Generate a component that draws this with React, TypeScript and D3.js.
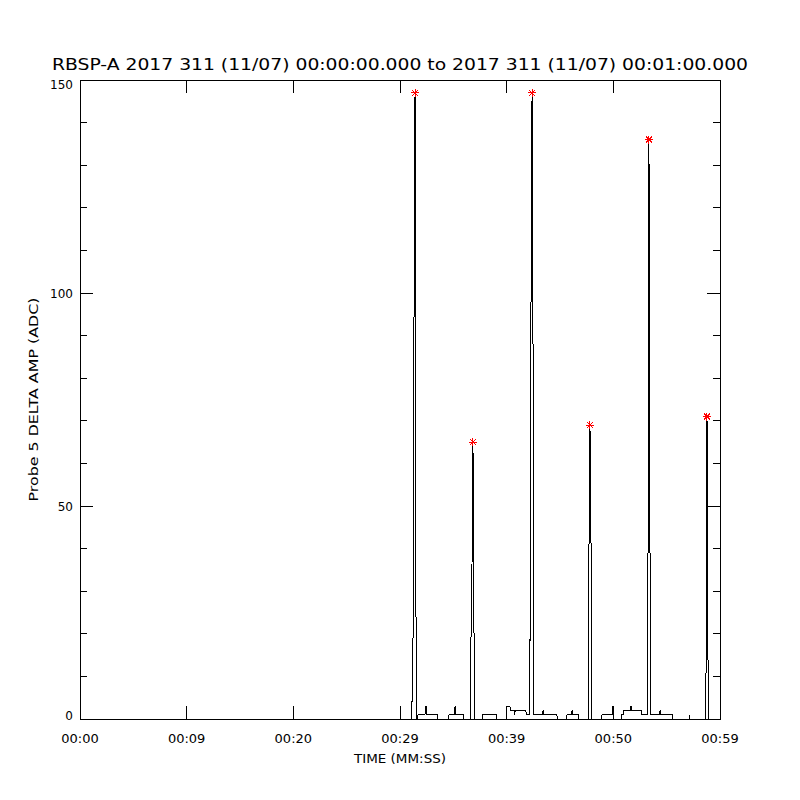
import { scaleLinear, line } from 'd3'

const width = 800
const height = 800

const margin = { top: 80, right: 80, bottom: 81, left: 80 }

const title = 'RBSP-A 2017 311 (11/07) 00:00:00.000 to 2017 311 (11/07) 00:01:00.000'
const xTitle = 'TIME (MM:SS)'
const yTitle = 'Probe 5 DELTA AMP (ADC)'

const xTickValues = [0, 10, 20, 30, 40, 50, 60]
const xTickLabels = ['00:00', '00:09', '00:20', '00:29', '00:39', '00:50', '00:59']
const yMajorTicks = [0, 50, 100, 150]
const yMinorTicks = [10, 20, 30, 40, 60, 70, 80, 90, 110, 120, 130, 140]

// seconds since 00:00:00 and delta amplitude (ADC)
const times = [
  0, 31.1,
  31.22, 31.31, 31.41, 31.45, 31.5, 31.55,
  31.65, 31.69, 32.34, 32.44, 32.53, 33.5, 33.55,
  34.55, 34.6, 35.1, 35.16, 35.25, 35.95, 36.0,
  36.6, 36.66, 36.75, 36.84, 36.89, 36.94, 36.98,
  37.75, 37.78, 39.06, 39.09,
  39.95, 40.0, 40.31, 40.35, 40.7, 40.75, 40.8, 41.8, 41.85, 42.18,
  42.23, 42.3, 42.38, 42.42, 42.47, 42.52,
  42.55, 43.38, 43.41, 43.5, 44.7, 44.75,
  45.62, 45.66, 46.1, 46.13, 46.22, 46.75, 46.78,
  47.68, 47.72, 47.77, 47.81, 47.86, 47.91, 47.95,
  48.9, 48.94, 49.94, 49.97, 50.0,
  50.78, 50.81, 50.97, 51.0, 51.62, 51.66, 51.75, 52.66, 52.69, 53.2,
  53.25, 53.3, 53.34, 53.39, 53.44, 53.5,
  53.53, 54.34, 54.38, 54.47, 55.56, 55.59,
  57.09, 57.14, 57.19,
  58.65, 58.69, 58.74, 58.78, 58.83, 58.88, 58.93, 60
]
const amps = [
  0, 0,
  18, 92, 147, 92, 24, 0,
  0, 1, 1, 3, 1, 1, 0,
  0, 1, 1, 3, 1, 1, 0,
  0, 20, 36, 65, 36, 20, 0,
  0, 1, 1, 0,
  0, 3, 3, 2, 2, 1, 2, 2, 1, 1,
  88, 101, 147, 101, 88, 1,
  1, 1, 2, 1, 1, 0,
  0, 1, 1, 2, 1, 1, 0,
  0, 41, 48, 69, 48, 41, 0,
  0, 1, 1, 3, 0,
  0, 1, 1, 2, 2, 3, 2, 2, 1, 1,
  38, 76, 136, 76, 38, 1,
  1, 1, 2, 1, 1, 0,
  0, 1, 0,
  0, 11, 45, 71, 45, 11, 0, 0
]

// red asterisks at the spike maxima
const peakTimes = [31.41, 36.84, 42.38, 47.81, 53.34, 58.78]
const peakAmps = [147, 65, 147, 69, 136, 71]

const font = 'DejaVu Sans, sans-serif'

function App() {
  const innerWidth = width - margin.left - margin.right
  const innerHeight = height - margin.top - margin.bottom

  const xScale = scaleLinear().domain([0, 60]).range([0, innerWidth])
  const yScale = scaleLinear().domain([0, 150]).range([innerHeight, 0])

  const data = times.map((t, i) => [t, amps[i]] as [number, number])
  const path = line<[number, number]>()
    .x(d => xScale(d[0]))
    .y(d => yScale(d[1]))(data)

  const majorLen = 13
  const minorLen = 7

  return (
    <svg width={width} height={height} style={{ display: 'block', position: 'absolute', left: 0, top: 0 }}>
      <rect width={width} height={height} fill="white" />
      <text x={width / 2} y={70} textAnchor="middle" fontFamily={font} fontSize={15}
        textLength={696} lengthAdjust="spacingAndGlyphs">{title}</text>
      <g transform={`translate(${margin.left},${margin.top})`}>
        <g stroke="black" strokeWidth={1} shapeRendering="crispEdges" fill="none">
          <rect x={0} y={0} width={innerWidth} height={innerHeight} />
          {xTickValues.map(v => (
            <g key={'x' + v}>
              <line x1={xScale(v)} x2={xScale(v)} y1={innerHeight} y2={innerHeight - majorLen} />
              <line x1={xScale(v)} x2={xScale(v)} y1={0} y2={majorLen} />
            </g>
          ))}
          {yMajorTicks.map(v => (
            <g key={'y' + v}>
              <line x1={0} x2={majorLen} y1={yScale(v)} y2={yScale(v)} />
              <line x1={innerWidth} x2={innerWidth - majorLen} y1={yScale(v)} y2={yScale(v)} />
            </g>
          ))}
          {yMinorTicks.map(v => (
            <g key={'m' + v}>
              <line x1={0} x2={minorLen} y1={yScale(v)} y2={yScale(v)} />
              <line x1={innerWidth} x2={innerWidth - minorLen} y1={yScale(v)} y2={yScale(v)} />
            </g>
          ))}
        </g>
        {xTickValues.map((v, i) => (
          <text key={'xl' + v} x={xScale(v)} y={innerHeight + 24} textAnchor="middle"
            fontFamily={font} fontSize={13}>{xTickLabels[i]}</text>
        ))}
        {yMajorTicks.map(v => {
          const cy = Math.min(Math.max(yScale(v), 4.5), innerHeight - 4)
          return (
            <text key={'yl' + v} x={-7} y={cy + 4.5} textAnchor="end"
              fontFamily={font} fontSize={12}>{v}</text>
          )
        })}
        <path d={path ?? ''} fill="none" stroke="black" strokeWidth={1} shapeRendering="crispEdges" />
        {peakTimes.map((t, i) => {
          const cx = xScale(t)
          const cy = yScale(peakAmps[i])
          const r = 4
          const d = 3
          return (
            <g key={'p' + i} stroke="#ff0000" strokeWidth={1} shapeRendering="crispEdges">
              <line x1={cx - r} x2={cx + r} y1={cy} y2={cy} />
              <line x1={cx} x2={cx} y1={cy - r} y2={cy + r} />
              <line x1={cx - d} x2={cx + d} y1={cy - d} y2={cy + d} />
              <line x1={cx - d} x2={cx + d} y1={cy + d} y2={cy - d} />
            </g>
          )
        })}
        <text x={innerWidth / 2} y={innerHeight + 44} textAnchor="middle" fontFamily={font}
          fontSize={12} textLength={92} lengthAdjust="spacingAndGlyphs">{xTitle}</text>
        <text transform={`translate(${-42},${innerHeight / 2}) rotate(-90)`} textAnchor="middle"
          fontFamily={font} fontSize={12} textLength={204} lengthAdjust="spacingAndGlyphs">{yTitle}</text>
      </g>
    </svg>
  )
}

export default App
